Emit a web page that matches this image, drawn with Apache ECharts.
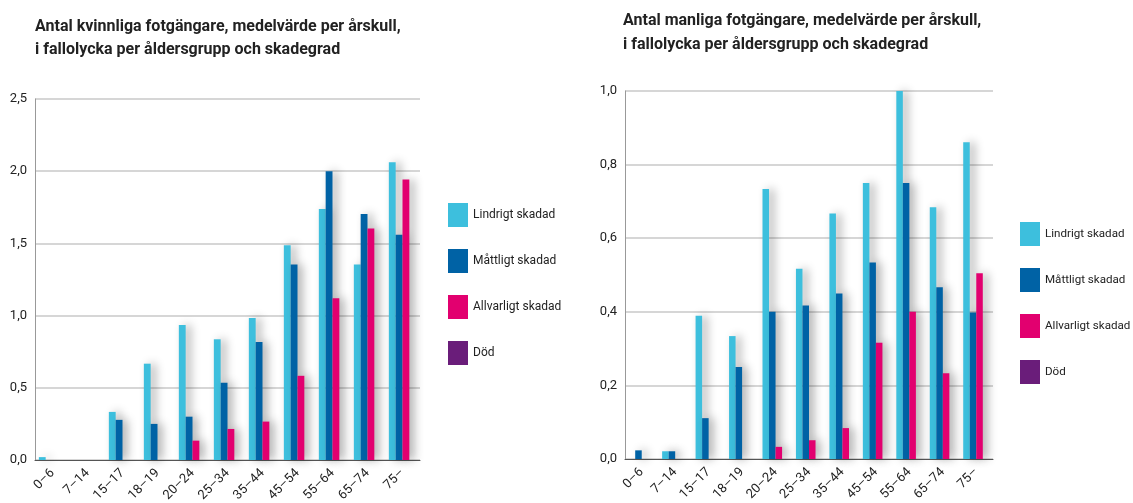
<!DOCTYPE html>
<html>
<head>
<meta charset="utf-8">
<script src="https://cdn.jsdelivr.net/npm/echarts@6/dist/echarts.min.js"></script>
<style>
  html, body { margin: 0; padding: 0; background: #fff; }
  #chart { width: 1133px; height: 503px; }
</style>
</head>
<body>
<div id="chart"></div>
<script>
const ageGroups = ['0–6', '7–14', '15–17', '18–19', '20–24', '25–34', '35–44', '45–54', '55–64', '65–74', '75–'];
const seriesNames = ['Lindrigt skadad', 'Måttligt skadad', 'Allvarligt skadad', 'Död'];
const colors = ['#3dbfdd', '#0062a5', '#e2006f', '#6a1d7a'];

// kvinnor
const womenLindrigt = [0.02, 0, 0.333, 0.667, 0.935, 0.836, 0.984, 1.488, 1.738, 1.354, 2.062];
const womenMattligt = [0, 0, 0.278, 0.25, 0.30, 0.535, 0.817, 1.354, 2.0, 1.704, 1.56];
const womenAllvarligt = [0, 0, 0, 0, 0.134, 0.215, 0.266, 0.583, 1.12, 1.604, 1.942];
const womenDod = [0, 0, 0, 0, 0, 0, 0, 0, 0, 0, 0];

// män
const menLindrigt = [0, 0.021, 0.389, 0.334, 0.734, 0.517, 0.667, 0.75, 1.0, 0.684, 0.861];
const menMattligt = [0.0235, 0.021, 0.111, 0.25, 0.40, 0.417, 0.45, 0.534, 0.75, 0.467, 0.398];
const menAllvarligt = [0, 0, 0, 0, 0.033, 0.051, 0.084, 0.316, 0.40, 0.233, 0.505];
const menDod = [0, 0, 0, 0, 0, 0, 0, 0, 0, 0, 0];

const fontFamily = 'Roboto, "Liberation Sans", sans-serif';

function makeXAxis(gridIndex) {
  return {
    type: 'category',
    gridIndex: gridIndex,
    data: ageGroups,
    axisLine: { lineStyle: { color: '#555', width: 1 } },
    axisTick: { inside: true, length: 5, lineStyle: { color: '#666' } },
    axisLabel: {
      rotate: 45, interval: 0, margin: 11,
      color: '#222', fontSize: 13, fontFamily: fontFamily
    }
  };
}

function makeYAxis(gridIndex, max, interval) {
  return {
    type: 'value',
    gridIndex: gridIndex,
    min: 0,
    max: max,
    interval: interval,
    axisLine: { show: true, lineStyle: { color: '#999' } },
    axisTick: { show: false },
    splitLine: { lineStyle: { color: '#c8c8c8', width: 1.5 } },
    axisLabel: {
      color: '#222', fontSize: 13, fontFamily: fontFamily, margin: 8,
      formatter: v => v.toFixed(1).replace('.', ',')
    }
  };
}

function makeBars(data, axisIndex) {
  return data.map((values, i) => ({
    name: seriesNames[i],
    type: 'bar',
    xAxisIndex: axisIndex,
    yAxisIndex: axisIndex,
    data: values,
    barGap: '0%',
    barCategoryGap: '22%',
    itemStyle: {
      color: colors[i],
      shadowColor: 'rgba(0,0,0,0.3)',
      shadowBlur: 10,
      shadowOffsetX: 5
    }
  }));
}

function makeLegend(left, top, fontSize) {
  return {
    orient: 'vertical',
    left: left,
    top: top,
    padding: 0,
    data: seriesNames,
    itemWidth: 20,
    itemHeight: 24,
    itemGap: 22,
    icon: 'rect',
    selectedMode: false,
    textStyle: { color: '#222', fontSize: fontSize, fontFamily: fontFamily }
  };
}

const chart = echarts.init(document.getElementById('chart'));
const option = {
  animation: false,
  backgroundColor: '#fff',
  title: [
    {
      text: 'Antal kvinnliga fotgängare, medelvärde per årskull,\ni fallolycka per åldersgrupp och skadegrad',
      left: 35, top: 15, padding: 0,
      textStyle: { fontSize: 16, fontWeight: 'bold', color: '#222', fontFamily: fontFamily, lineHeight: 23 }
    },
    {
      text: 'Antal manliga fotgängare, medelvärde per årskull,\ni fallolycka per åldersgrupp och skadegrad',
      left: 623, top: 9, padding: 0,
      textStyle: { fontSize: 16, fontWeight: 'bold', color: '#222', fontFamily: fontFamily, lineHeight: 24 }
    }
  ],
  legend: [makeLegend(448, 203, 12), makeLegend(1020, 222, 11.6)],
  grid: [
    { left: 35, right: 713, top: 99, bottom: 43, outerBoundsMode: 'none' },
    { left: 625, right: 140, top: 91, bottom: 44, outerBoundsMode: 'none' }
  ],
  xAxis: [makeXAxis(0), makeXAxis(1)],
  yAxis: [makeYAxis(0, 2.5, 0.5), makeYAxis(1, 1.0, 0.2)],
  series: [
    ...makeBars([womenLindrigt, womenMattligt, womenAllvarligt, womenDod], 0),
    ...makeBars([menLindrigt, menMattligt, menAllvarligt, menDod], 1)
  ]
};
chart.setOption(option);
</script>
</body>
</html>
